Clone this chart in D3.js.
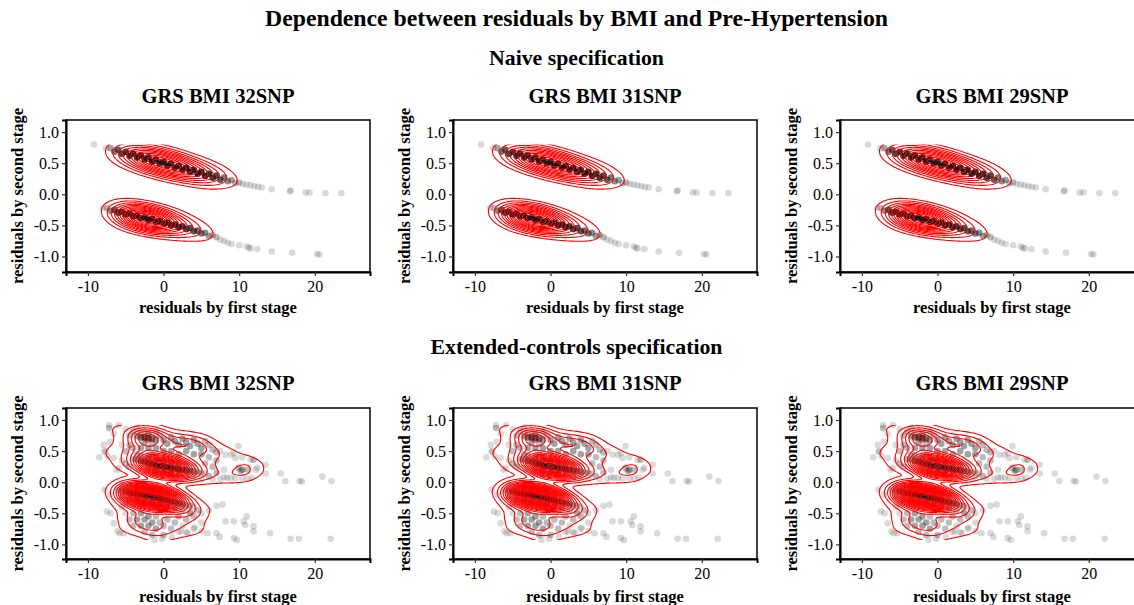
<!DOCTYPE html>
<html><head><meta charset="utf-8">
<script src="https://cdn.jsdelivr.net/npm/d3@7"></script>
<style>body{margin:0;background:#fff}svg{display:block}text{font-family:"Liberation Serif","Times New Roman",serif;fill:#000}</style>
</head><body><svg id="c" width="1134" height="605"></svg>
<script>
// ---------- text ----------
const mainTitle = "Dependence between residuals by BMI and Pre-Hypertension";
const rowTitles = ["Naive specification", "Extended-controls specification"];
const panelTitles = ["GRS BMI 32SNP", "GRS BMI 31SNP", "GRS BMI 29SNP"];
const xLabel = "residuals by first stage";
const yLabel = "residuals by second stage";
const xTicks = [-10, 0, 10, 20];
const yTicks = [-1.0, -0.5, 0.0, 0.5, 1.0];

// ---------- data: [first-stage residual, second-stage residual, number of observations] ----------
const naiveUpper = [
  [-9.2,0.80,1],[-7.6,0.74,1],[-7.0,0.74,3],[-6.5,0.685,5],[-6.0,0.715,7],[-5.5,0.65,9],[-5.0,0.685,12],
  [-4.5,0.62,15],[-4.0,0.655,18],[-3.5,0.59,21],[-3.0,0.625,24],[-2.5,0.56,27],[-2.0,0.595,30],[-1.5,0.525,32],
  [-1.0,0.56,34],[-0.5,0.495,35],[0.0,0.525,35],[0.5,0.46,34],[1.0,0.495,33],[1.5,0.425,31],[2.0,0.46,29],
  [2.5,0.395,27],[3.0,0.425,25],[3.5,0.36,23],[4.0,0.395,21],[4.5,0.33,19],[5.0,0.36,17],[5.5,0.295,15],
  [6.0,0.33,13],[6.5,0.265,11],[7.0,0.30,9],[7.5,0.235,7],[8.0,0.27,5],[8.5,0.21,4],[9.0,0.23,3],[9.5,0.18,2],
  [10.0,0.19,2],[10.5,0.165,1],[11.0,0.155,1],[11.5,0.145,1],[12.0,0.13,1],[12.5,0.12,1],[13.0,0.11,1],
  [14.3,0.08,1],[16.7,0.05,1],[16.8,0.06,1],[18.8,0.03,1],[19.3,0.03,1],[21.4,0.02,1],[23.5,0.02,1]
];
const naiveLower = [
  [-8.0,-0.22,1],[-7.5,-0.22,2],[-7.0,-0.265,4],[-6.5,-0.25,7],[-6.0,-0.295,11],[-5.5,-0.28,16],[-5.0,-0.325,22],
  [-4.5,-0.31,28],[-4.0,-0.355,34],[-3.5,-0.34,39],[-3.0,-0.385,42],[-2.5,-0.37,43],[-2.0,-0.415,42],[-1.5,-0.40,40],
  [-1.0,-0.445,37],[-0.5,-0.425,33],[0.0,-0.47,29],[0.5,-0.455,25],[1.0,-0.50,21],[1.5,-0.485,18],[2.0,-0.53,15],
  [2.5,-0.515,12],[3.0,-0.56,10],[3.5,-0.545,8],[4.0,-0.595,7],[4.5,-0.585,6],[5.0,-0.63,5],[5.5,-0.62,4],
  [6.0,-0.67,3],[6.5,-0.655,2],[7.0,-0.69,2],[7.5,-0.73,1],[8.0,-0.75,1],[8.5,-0.78,1],[9.0,-0.80,1],
  [10.0,-0.82,1],[11.0,-0.84,1],[11.3,-0.86,1],[11.5,-0.87,1],[12.4,-0.88,1],[14.3,-0.92,1],[17.0,-0.94,1],
  [20.3,-0.96,1],[20.6,-0.97,1]
];
const extClusterLow = [
  [-6,-0.13,2],[-5.5,-0.14,3],[-5,-0.15,6],[-4.5,-0.17,8],[-4,-0.18,11],[-3.5,-0.19,14],[-3,-0.2,16],
  [-2.5,-0.21,18],[-2,-0.22,19],[-1.5,-0.24,19],[-1,-0.25,18],[-0.5,-0.26,16],[0,-0.28,14],[0.5,-0.29,12],
  [1,-0.31,9],[1.5,-0.32,7],[2,-0.34,6],[2.5,-0.35,4],[3,-0.37,3],[3.5,-0.38,2],[4,-0.4,1],
  [-5.5,-0.05,1],[-4.5,-0.07,2],[-3.5,-0.09,4],[-2.5,-0.11,5],[-1.5,-0.13,5],[-0.5,-0.16,4],[0.5,-0.19,3],
  [1.5,-0.22,2],[2.5,-0.25,1],
  [-5.5,-0.24,2],[-4.5,-0.27,3],[-3.5,-0.29,5],[-2.5,-0.31,6],[-1.5,-0.34,6],[-0.5,-0.36,6],[0.5,-0.39,4],
  [1.5,-0.42,3],[2.5,-0.45,2],[3.5,-0.47,1]
];
const extClusterHigh = [
  [-4,0.37,2],[-3.5,0.36,3],[-3,0.34,5],[-2.5,0.33,7],[-2,0.31,9],[-1.5,0.29,11],[-1,0.27,14],[-0.5,0.26,15],
  [0,0.25,14],[0.5,0.24,13],[1,0.23,11],[1.5,0.22,10],[2,0.21,10],[2.5,0.2,9],[3,0.19,7],[3.5,0.18,5],
  [4,0.17,4],[4.5,0.16,2],[5,0.15,2],[5.5,0.14,1],
  [-3,0.43,2],[-2,0.4,3],[-1,0.36,5],[0,0.34,5],[1,0.32,4],[2,0.3,3],[3,0.28,2],[4,0.26,1],
  [-2,0.22,2],[-1,0.18,4],[0,0.16,4],[1,0.14,4],[2,0.12,3],[3,0.1,2],[4,0.08,1]
];
const extClusterTop = [
  [-3.5,0.74,3],[-3,0.72,5],[-2.5,0.72,7],[-2,0.71,7],[-1.5,0.7,5],[-1,0.68,3],[-2.5,0.64,3],[-2,0.78,3],
  [-3,0.8,2],[-1.5,0.62,2]
];
const extCloud = [
  [-7.2,0.92,1],[-5.9,0.92,1],[-7.2,0.87,2],[-6.6,0.78,1],[-7.9,0.6,1],[-7.1,0.65,1],[-7.7,0.5,1],[-8.5,0.4,1],
  [-7.8,0.49,1],[-6.6,0.39,1],[-7.4,0.42,1],[-5.9,0.23,1],[-6.2,0.2,1],[-7.8,-0.12,1],[-7.1,-0.2,1],
  [-7.5,-0.47,1],[-7.0,-0.5,1],[-6.6,-0.66,1],[-6.1,-0.79,1],[-5.8,-0.82,1],[-5.3,-0.82,1],
  [-5,0.85,1],[-4.5,0.75,2],[-4,0.82,2],[-4.5,0.6,2],[-4,0.55,2],[-3.5,0.88,1],[-5,0.5,2],[-5.5,0.6,1],
  [-5,0.3,2],[-4.5,0.25,2],[-5.5,0.35,1],[-1,0.82,2],[-0.5,0.75,2],[0,0.68,3],[0.5,0.62,3],[1,0.72,3],
  [1.5,0.66,3],[2,0.6,3],[2.5,0.7,3],[3,0.64,3],[3.5,0.58,3],[4,0.68,3],[4.5,0.62,3],[5,0.55,3],[5.5,0.66,2],
  [6,0.6,2],[6.5,0.52,2],[7,0.48,2],[5,0.45,3],[6,0.4,2],[7,0.35,2],[4,0.45,3],[3,0.5,3],[2,0.45,3],[1,0.5,3],
  [0,0.5,3],[-1,0.55,3],[-2,0.55,3],[-3,0.55,3],[-1.5,0.45,2],[-3.5,0.45,2],
  [5,0.05,1],[6,0.1,2],[7,0.15,2],[7.5,0.05,1],[8,0.2,1],[6.5,0.25,2],[5.5,0.3,2],[6.5,0.05,1],[8,0.08,1],
  [8.4,0.07,1],[8.9,0.07,1],[9.5,0.06,1],[10.4,0.06,1],[11.1,0.06,1],[11.7,0.07,1],
  [7.5,0.5,1],[8.2,0.44,1],[8.9,0.44,1],[9.3,0.47,1],[9.5,0.39,1],[9.9,0.58,1],[10.4,0.4,1],[11.5,0.36,1],
  [11.9,0.36,2],[13.5,0.28,1],[12.4,0.23,1],[12.2,0.2,1],[13.5,0.14,1],[15.5,0.14,1],[16.1,0.02,1],
  [18.0,0.02,1],[18.3,0.01,1],[21.0,0.09,1],[22.2,0.02,1],
  [9.9,0.23,2],[10.4,0.2,3],[11.1,0.2,2],[10.2,0.18,2],
  [-5,-0.5,1],[-4.5,-0.6,2],[-4,-0.5,2],[-4,-0.7,2],[-3.5,-0.6,3],[-3,-0.5,3],[-3,-0.7,3],[-2.5,-0.6,3],
  [-2.5,-0.8,2],[-2,-0.55,3],[-2,-0.7,3],[-1.5,-0.65,3],[-1.5,-0.85,2],[-1,-0.55,2],[-1,-0.75,3],[-0.5,-0.65,2],
  [0,-0.7,2],[0,-0.85,2],[0.5,-0.6,2],[1,-0.75,2],[1.5,-0.65,2],[2,-0.55,2],[2,-0.8,1],[2.5,-0.7,1],[3,-0.6,2],
  [3.5,-0.5,2],[4,-0.55,2],[4.5,-0.45,2],[5,-0.5,1],[5,-0.65,1],[6,-0.45,1],[3,-0.8,1],[4,-0.75,1],
  [-5.5,-0.4,1],[-5,-0.35,1],[-0.2,-0.91,1],[1.1,-0.88,1],[-1.2,-0.93,1],
  [7.0,-0.38,1],[7.8,-0.36,1],[8.2,-0.63,1],[9.3,-0.63,1],[10.6,-0.63,1],[11.0,-0.55,1],[10.8,-0.69,1],
  [11.9,-0.71,1],[11.9,-0.79,1],[9.3,-0.9,1],[9.7,-0.93,1],[14.1,-0.82,1],[16.8,-0.91,1],[17.9,-0.91,1],
  [22.1,-0.91,1],[5.8,-0.82,1],[7.0,-0.82,1],[7.4,-0.88,1],[5.0,-0.79,1],[4.1,-0.73,1],[3.2,-0.82,1],[2.3,-0.79,1]
];

const naivePoints = naiveUpper.concat(naiveLower);
const extPoints = extClusterLow.concat(extClusterHigh, extClusterTop, extCloud);

// ---------- layout ----------
const svg = d3.select("#c");
const W = 304;
const lefts = [66, 453, 840];
const xDomain = [-12.9, 27.3];
const rows = [
  {top:120, h:152, yDomain:[-1.25,1.195], data:naivePoints, titleY:65, panelTitleY:103, xLabY:313, bx:11, by:7.5, levels:20},
  {top:408, h:151, yDomain:[-1.235,1.193], data:extPoints, titleY:354, panelTitleY:390, xLabY:602, bx:10, by:6.5, levels:15}
];
const baseAlpha = 0.16;

svg.append("text").attr("x",576.5).attr("y",26).attr("text-anchor","middle")
  .attr("font-size",24).attr("font-weight","bold").attr("textLength",623).attr("lengthAdjust","spacingAndGlyphs")
  .text(mainTitle);

rows.forEach((row, ri) => {
  svg.append("text").attr("x",576.5).attr("y",row.titleY).attr("text-anchor","middle")
    .attr("font-size",21).attr("font-weight","bold")
    .attr("textLength", ri===0?175:292).attr("lengthAdjust","spacingAndGlyphs")
    .text(rowTitles[ri]);

  const xExt = d3.extent(row.data, d=>d[0]);
  const yExt = d3.extent(row.data, d=>d[1]);

  lefts.forEach((left, pi) => {
    const x = d3.scaleLinear().domain(xDomain).range([0, W]);
    const y = d3.scaleLinear().domain(row.yDomain).range([row.h, 0]);
    const g = svg.append("g").attr("transform",`translate(${left},${row.top})`);
    const id = `clip${ri}_${pi}`;
    const dc = `dclip${ri}_${pi}`;
    const defs = g.append("defs");
    defs.append("clipPath").attr("id",id).append("rect").attr("width",W).attr("height",row.h);
    defs.append("clipPath").attr("id",dc).append("rect")
      .attr("x",x(xExt[0])).attr("y",y(yExt[1]))
      .attr("width",x(xExt[1])-x(xExt[0])).attr("height",y(yExt[0])-y(yExt[1]));

    const plot = g.append("g").attr("clip-path",`url(#${id})`);
    plot.append("g").selectAll("circle").data(row.data).join("circle")
      .attr("cx", d=>x(d[0])).attr("cy", d=>y(d[1])).attr("r",3.3)
      .attr("fill","#1a1a1a").attr("fill-opacity", d=>1-Math.pow(1-baseAlpha, d[2]));

    // anisotropic kernel: squeeze x, estimate with isotropic kernel, stretch back
    const s = row.by / row.bx;
    const dens = d3.contourDensity().x(d=>x(d[0])*s).y(d=>y(d[1])).weight(d=>d[2])
      .size([Math.ceil(W*s), row.h]).cellSize(1).bandwidth(row.by);
    const probe = dens.thresholds(300)(row.data);
    const maxV = d3.max(probe.filter(c=>c.coordinates.length>0), c=>c.value);
    const levels = d3.ticks(0, maxV, row.levels).filter(v=>v>0);
    const contours = dens.thresholds(levels)(row.data);
    const stretch = d3.geoTransform({point(px, py){ this.stream.point(px/s, py); }});
    plot.append("g").attr("clip-path",`url(#${dc})`).selectAll("path").data(contours).join("path")
      .attr("d", d3.geoPath(stretch)).attr("fill","none").attr("stroke","#ff0000").attr("stroke-width",1.1);

    // frame
    g.append("rect").attr("width",W).attr("height",row.h).attr("fill","none").attr("stroke","#000").attr("stroke-width",1.5);
    const xa = g.append("g").attr("transform",`translate(0,${row.h})`)
      .call(d3.axisBottom(x).tickValues(xTicks).tickSize(4).tickPadding(5));
    const ya = g.append("g").call(d3.axisLeft(y).tickValues(yTicks).tickSize(4).tickPadding(3));
    [xa, ya].forEach(a => {
      a.select(".domain").attr("stroke","#000").attr("stroke-width",2);
      a.selectAll(".tick line").attr("stroke","#333").attr("stroke-width",1.2);
      a.selectAll(".tick text").attr("font-size",16).attr("fill","#222")
        .attr("font-family",'"Liberation Serif","Times New Roman",serif');
    });
    ya.selectAll(".tick text").text(d => (d<0?"-":"") + Math.abs(d).toFixed(1));
    xa.selectAll(".tick text").text(d => (d<0?"-":"") + Math.abs(d));

    svg.append("text").attr("x", left + W/2).attr("y", row.panelTitleY).attr("text-anchor","middle")
      .attr("font-size",20).attr("font-weight","bold").attr("textLength",153).attr("lengthAdjust","spacingAndGlyphs")
      .text(panelTitles[pi]);
    svg.append("text").attr("x", left + W/2).attr("y", row.xLabY).attr("text-anchor","middle")
      .attr("font-size",16.5).attr("font-weight","bold").text(xLabel);
    svg.append("text").attr("transform",`translate(${left-43},${row.top+row.h/2}) rotate(-90)`)
      .attr("text-anchor","middle").attr("font-size",16.5).attr("font-weight","bold").text(yLabel);
  });
});
</script></body></html>
